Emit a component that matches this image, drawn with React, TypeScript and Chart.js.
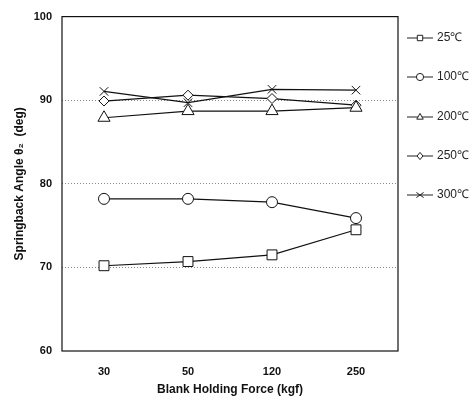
import React, { useEffect, useRef } from "react";
import { Chart, registerables } from "chart.js";

Chart.register(...registerables);

const categories = ["30", "50", "120", "250"];
const seriesLabels = ["25℃", "100℃", "200℃", "250℃", "300℃"];
const s25 = [70.2, 70.7, 71.5, 74.5];
const s100 = [78.2, 78.2, 77.8, 75.9];
const s200 = [87.9, 88.7, 88.7, 89.1];
const s250 = [89.9, 90.6, 90.2, 89.4];
const s300 = [91.05, 89.7, 91.3, 91.2];
const yTicks = [60, 70, 80, 90, 100];

const pointStyles = ["rect", "circle", "triangle", "rectRot", "crossRot"];
const radii = [7, 5.5, 7, 5, 6];

function drawMarker(ctx: CanvasRenderingContext2D, style: string, x: number, y: number, r: number) {
  ctx.beginPath();
  if (style === "rect") {
    ctx.rect(x - r * 0.75, y - r * 0.75, r * 1.5, r * 1.5);
  } else if (style === "circle") {
    ctx.arc(x, y, r, 0, Math.PI * 2);
  } else if (style === "triangle") {
    ctx.moveTo(x, y - r);
    ctx.lineTo(x + r * 0.9, y + r * 0.6);
    ctx.lineTo(x - r * 0.9, y + r * 0.6);
    ctx.closePath();
  } else if (style === "rectRot") {
    ctx.moveTo(x, y - r);
    ctx.lineTo(x + r * 0.8, y);
    ctx.lineTo(x, y + r);
    ctx.lineTo(x - r * 0.8, y);
    ctx.closePath();
  }
  if (style === "crossRot") {
    ctx.moveTo(x - r, y - r * 0.7);
    ctx.lineTo(x + r, y + r * 0.7);
    ctx.moveTo(x + r, y - r * 0.7);
    ctx.lineTo(x - r, y + r * 0.7);
    ctx.stroke();
    return;
  }
  ctx.fillStyle = "#fff";
  ctx.fill();
  ctx.stroke();
}

const legendPlugin = {
  id: "customLegend",
  afterDraw(chart: any) {
    const ctx = chart.ctx as CanvasRenderingContext2D;
    ctx.save();
    const a = chart.chartArea;
    ctx.strokeStyle = "#111";
    ctx.lineWidth = 1.2;
    ctx.strokeRect(a.left, a.top, a.right - a.left, a.bottom - a.top);
    const x0 = 407;
    const x1 = 433;
    const ys = [38, 77, 117, 156, 195];
    ctx.font = "12px 'Liberation Sans', Arial, sans-serif";
    ctx.textBaseline = "middle";
    ctx.textAlign = "left";
    seriesLabels.forEach((lab, i) => {
      const y = ys[i];
      ctx.strokeStyle = "#222";
      ctx.lineWidth = 1;
      ctx.beginPath();
      ctx.moveTo(x0, y);
      ctx.lineTo(x1, y);
      ctx.stroke();
      drawMarker(ctx, pointStyles[i], (x0 + x1) / 2, y, 3.6);
      ctx.fillStyle = "#222";
      ctx.fillText(lab, 437, y);
    });
    ctx.restore();
  },
};

export default function App() {
  const ref = useRef<HTMLCanvasElement | null>(null);
  useEffect(() => {
    document.body.style.margin = "0";
    const data = [s25, s100, s200, s250, s300];
    const chart = new Chart(ref.current as HTMLCanvasElement, {
      type: "line",
      data: {
        labels: categories,
        datasets: data.map((d, i) => ({
          label: seriesLabels[i],
          data: d,
          borderColor: "#111",
          borderWidth: 1.2,
          backgroundColor: "#fff",
          pointStyle: pointStyles[i] as any,
          pointRadius: radii[i],
          pointBorderColor: "#111",
          pointBorderWidth: 1,
          pointBackgroundColor: "#fff",
          tension: 0,
        })),
      },
      options: {
        animation: false,
        responsive: false,
        devicePixelRatio: 1,
        layout: { padding: { top: 14, right: 76, left: 0, bottom: 0 } },
        plugins: { legend: { display: false }, tooltip: { enabled: false } },
        scales: {
          x: {
            type: "category",
            offset: true,
            grid: { display: false, drawTicks: false },
            border: { display: false },
            ticks: {
              color: "#111",
              padding: 14,
              font: { family: "'Liberation Sans', Arial, sans-serif", size: 11, weight: "bold" },
            },
            title: {
              display: true,
              text: "Blank Holding Force (kgf)",
              color: "#111",
              padding: { top: 0, bottom: 4 },
              font: { family: "'Liberation Sans', Arial, sans-serif", size: 12, weight: "bold" },
            },
            afterFit: (s: any) => {
              s.height = 50;
            },
          },
          y: {
            min: 60,
            max: 100,
            grid: {
              drawTicks: false,
              color: (c: any) => (c.tick && (c.tick.value === 60 || c.tick.value === 100) ? "rgba(0,0,0,0)" : "#888"),
              lineWidth: 1,
            },
            border: { display: false, dash: [1, 2] },
            afterBuildTicks: (s: any) => {
              s.ticks = yTicks.map((v) => ({ value: v }));
            },
            ticks: {
              color: "#111",
              padding: 10,
              font: { family: "'Liberation Sans', Arial, sans-serif", size: 11, weight: "bold" },
            },
            title: {
              display: true,
              text: "Springback Angle θ₂  (deg)",
              color: "#111",
              padding: { top: 12, bottom: 4 },
              font: { family: "'Liberation Sans', Arial, sans-serif", size: 12, weight: "bold" },
            },
            afterFit: (s: any) => {
              s.width = 62;
            },
          },
        },
      },
      plugins: [legendPlugin],
    });
    return () => chart.destroy();
  }, []);
  return <canvas ref={ref} width={474} height={401} style={{ display: "block" }} />;
}
